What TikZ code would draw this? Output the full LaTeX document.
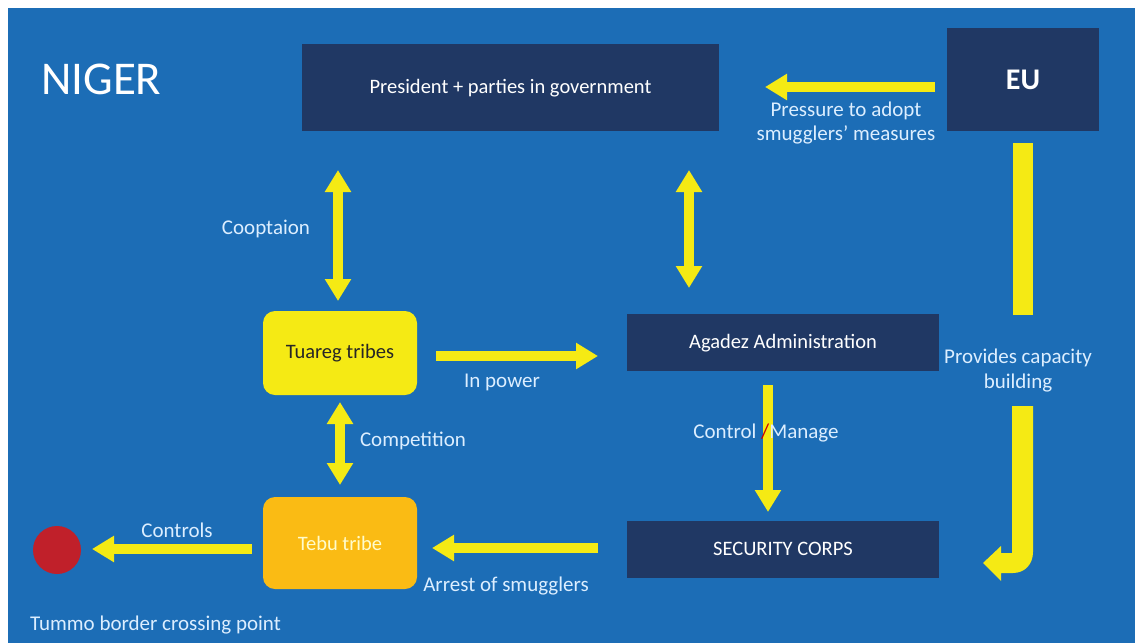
\documentclass[tikz,border=0pt]{standalone}
\usepackage{fontspec}
\setmainfont{Carlito}
\usetikzlibrary{arrows.meta}
\definecolor{bgblue}{HTML}{1C6DB6}
\definecolor{darkbox}{HTML}{203864}
\definecolor{yel}{HTML}{F5EA14}
\definecolor{orng}{HTML}{FABB14}
\definecolor{lbl}{HTML}{DCEEFF}
\definecolor{reddot}{HTML}{C0202A}
\tikzset{
  dbox/.style={fill=darkbox, draw=none, text=white, font=\fontsize{20.5}{24}\selectfont},
  rbox/.style={rounded corners=12pt, draw=none, font=\fontsize{20.5}{24}\selectfont},
  lab/.style={text=lbl, font=\fontsize{21}{25}\selectfont, inner sep=0pt},
  yarrow/.style={draw=yel, line width=10pt, -{Triangle[width=25pt,length=22pt]}},
  yarrow2/.style={draw=yel, line width=10pt, {Triangle[width=25pt,length=22pt]}-{Triangle[width=25pt,length=22pt]}},
}
\begin{document}
\begin{tikzpicture}[x=1pt,y=-1pt]
\useasboundingbox (0,0) rectangle (1135,643);
\fill[white] (0,0) rectangle (1135,643);
\fill[bgblue] (8,8) rectangle (1135,643);

% title
\node[text=white, font=\fontsize{47}{50}\selectfont, anchor=west, inner sep=0pt] (title) at (41,79) {NIGER};

% boxes
\path[dbox] (302,44) rectangle (719,131);
\node[dbox, fill=none] (pres) at (510.5,88) {President + parties in government};

\path[dbox] (947,28) rectangle (1099,131);
\node[dbox, fill=none, font=\fontsize{30}{34}\selectfont\bfseries] (eu) at (1023,80) {EU};

\path[rbox, fill=yel] (263,311) rectangle (417,395);
\node[text=black!85, font=\fontsize{20.5}{24}\selectfont] (tuareg) at (340,353) {Tuareg tribes};

\path[dbox] (627,314) rectangle (939,371);
\node[dbox, fill=none] (agadez) at (783,343) {Agadez Administration};

\path[rbox, fill=orng] (263,497) rectangle (417,589);
\node[text=yellow!20, font=\fontsize{20.5}{24}\selectfont] (tebu) at (340,543) {Tebu tribe};

\path[dbox] (627,521) rectangle (939,578);
\node[dbox, fill=none] (sec) at (783,549) {SECURITY CORPS};

\fill[reddot] (57,550) circle (24);

% coordinates for arrows
\coordinate (euL) at (935,87);
\coordinate (presR) at (765,87);
\coordinate (coopT) at (338,170);
\coordinate (coopB) at (338,301);
\coordinate (agT) at (689,170);
\coordinate (agB) at (689,288);
\coordinate (tuR) at (436,356);
\coordinate (agL) at (598,356);
\coordinate (compT) at (340,402);
\coordinate (compB) at (340,485);
\coordinate (agBot) at (768,385);
\coordinate (secTop) at (768,512);
\coordinate (secL) at (598,548);
\coordinate (tebR) at (432,548);
\coordinate (tebL) at (252,549);
\coordinate (dotR) at (92,549);

% arrows
\draw[yarrow] (euL) -- (presR);
\draw[yarrow2] (coopT) -- (coopB);
\draw[yarrow2] (agT) -- (agB);
\draw[yarrow] (tuR) -- (agL);
\draw[yarrow2] (compT) -- (compB);
\draw[yarrow] (agBot) -- (secTop);
\draw[yarrow] (secL) -- (tebR);
\draw[yarrow] (tebL) -- (dotR);

% EU bent arrow
\fill[yel] (1013,143) rectangle (1033,315);
\fill[yel] (1012,406) -- (1033,406) -- (1033,552)
  .. controls (1033,564) and (1025,573) .. (1013,573)
  -- (1001,573) -- (1001,581) -- (983,563) -- (1001,546) -- (1001,553) -- (1012,553) -- cycle;

% labels
\node[lab] (lpress1) at (846,111) {Pressure to adopt};
\node[lab] (lpress2) at (846,135) {smugglers\char"0027\ measures};
\node[lab] (lcoop) at (266,229) {Cooptaion};
\node[lab] (lpow) at (502,382) {In power};
\node[lab] (lcomp) at (413,441) {Competition};
\node[lab] (lctrl) at (766,433) {Control {\color{red!80!black}/}Manage};
\node[lab] (lcap1) at (1018,358) {Provides capacity};
\node[lab] (lcap2) at (1018,383) {building};
\node[lab] (larr) at (506,586) {Arrest of smugglers};
\node[lab] (lcon) at (177,530) {Controls};
\node[lab, anchor=west] (ltum) at (30,625) {Tummo border crossing point};
\end{tikzpicture}
\end{document}
